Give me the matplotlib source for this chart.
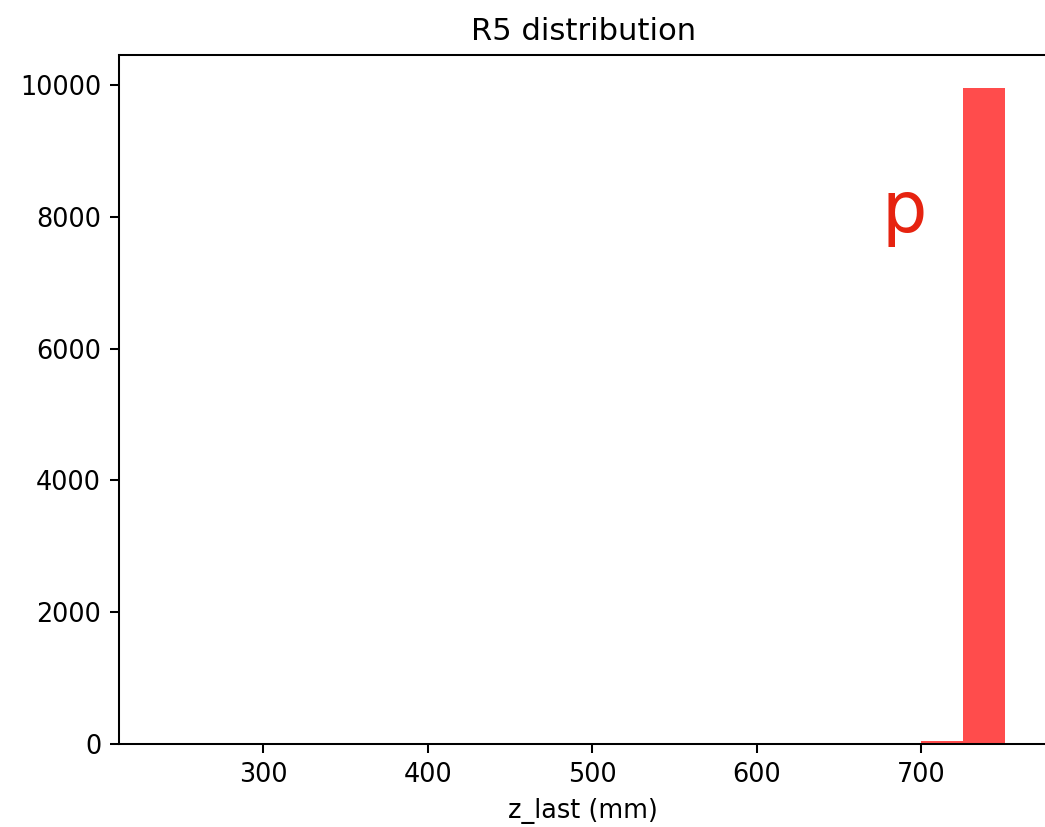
import matplotlib
matplotlib.use("Agg")
import matplotlib.pyplot as plt
import numpy as np

# 20 bins of z_last (mm), counts
bin_edges = np.linspace(238.1, 751.0, 21)
counts = [0, 0, 0, 0, 0, 0, 0, 0, 0, 0,
          0, 0, 0, 0, 0, 0, 0, 0, 40, 9957]
label = "p"

dpi = 184
fig = plt.figure(figsize=(1045 / dpi, 827 / dpi), dpi=dpi)
ax = fig.add_axes([0.1139, 0.1004, 0.8885, 0.8331])

centers = 0.5 * (bin_edges[:-1] + bin_edges[1:])
ax.hist(centers, bins=bin_edges, weights=counts, color="red", alpha=0.7)
ax.text(676, 7770, label, color="#e62310", fontsize=28, ha="left", va="baseline")

ax.set_title("R5 distribution")
ax.set_xlabel("z_last (mm)")

fig.savefig("out.png", dpi=dpi)
